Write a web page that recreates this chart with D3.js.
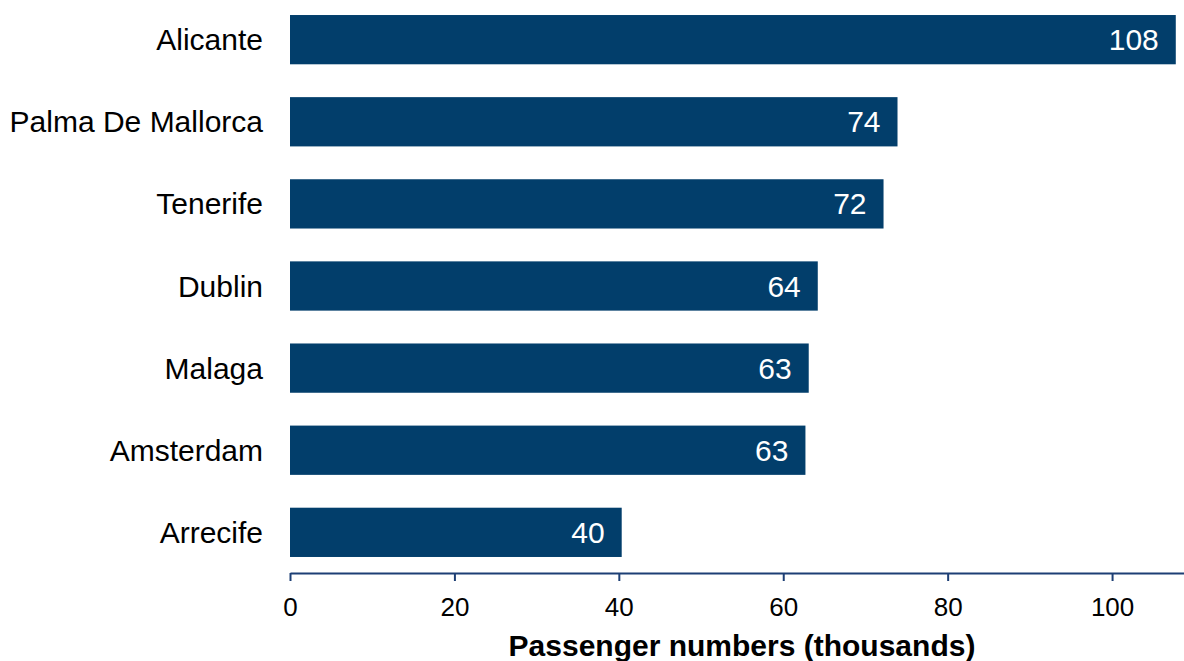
<!DOCTYPE html>
<html>
<head>
<meta charset="utf-8">
<script src="https://cdn.jsdelivr.net/npm/d3@7"></script>
<style>
  body { margin: 0; background: #fff; }
  svg { display: block; font-family: "Liberation Sans", Arial, sans-serif; }
</style>
</head>
<body>
<svg id="chart"></svg>
<script>
// passenger numbers (thousands) by destination
const airports = ["Alicante", "Palma De Mallorca", "Tenerife", "Dublin", "Malaga", "Amsterdam", "Arrecife"]
const passengers = [107.75, 73.9, 72.2, 64.2, 63.1, 62.7, 40.35]
const xTicks = [0, 20, 40, 60, 80, 100]
const xTitle = "Passenger numbers (thousands)"

const width = 1184
const height = 661
const margin = { left: 290, right: 0, top: 0, axisY: 573 }
const barColor = "#023e6b"
const axisColor = "#1d3f75"

const data = airports.map((name, i) => ({ name, value: passengers[i] }))

const svg = d3.select("#chart")
    .attr("width", width)
    .attr("height", height)

let x = d3.scaleLinear()
    .domain([0, 108.75])
    .range([margin.left, width - margin.right])

let y = d3.scaleBand()
    .domain(airports)
    .range([-1.4, margin.axisY + 0.4])
    .paddingInner(0.4)
    .paddingOuter(0.2)

// bars
svg.append("g")
    .selectAll("rect")
    .data(data)
    .join("rect")
    .attr("x", x(0))
    .attr("y", d => y(d.name))
    .attr("width", d => x(d.value) - x(0))
    .attr("height", y.bandwidth())
    .attr("fill", barColor)

// value labels inside bar ends
svg.append("g")
    .selectAll("text")
    .data(data)
    .join("text")
    .attr("x", d => x(d.value) - 17)
    .attr("y", d => y(d.name) + y.bandwidth() / 2)
    .attr("dy", "0.35em")
    .attr("text-anchor", "end")
    .attr("fill", "#fff")
    .attr("font-size", 30)
    .text(d => d3.format(".0f")(d.value))

// category labels
svg.append("g")
    .selectAll("text")
    .data(data)
    .join("text")
    .attr("x", x(0) - 27)
    .attr("y", d => y(d.name) + y.bandwidth() / 2)
    .attr("dy", "0.35em")
    .attr("text-anchor", "end")
    .attr("fill", "#000")
    .attr("font-size", 30)
    .text(d => d.name)

// x axis
let xAxis = g => g
    .attr("transform", `translate(0,${margin.axisY})`)
    .call(d3.axisBottom(x).tickValues(xTicks).tickSize(8).tickSizeOuter(0).tickPadding(17))
    .call(g => g.select(".domain").attr("stroke", axisColor).attr("stroke-width", 2))
    .call(g => g.selectAll(".tick line").attr("stroke", axisColor).attr("stroke-width", 2))
    .call(g => g.selectAll(".tick text")
        .attr("fill", "#000")
        .attr("font-size", 26)
        .attr("font-family", "'Liberation Sans', Arial, sans-serif"))

svg.append("g").call(xAxis)

svg.append("text")
    .attr("x", (x(0) + width) / 2 + 5)
    .attr("y", 656)
    .attr("text-anchor", "middle")
    .attr("font-size", 30)
    .attr("font-weight", "bold")
    .attr("fill", "#000")
    .text(xTitle)
</script>
</body>
</html>
